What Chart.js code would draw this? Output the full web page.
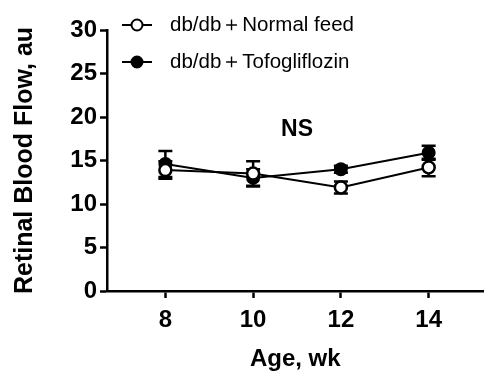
<!DOCTYPE html>
<html>
<head>
<meta charset="utf-8">
<script src="https://cdn.jsdelivr.net/npm/chart.js@4"></script>
<style>
  html, body { margin: 0; padding: 0; background: #fff; }
  #wrap { width: 492px; height: 378px; }
</style>
</head>
<body>
<div id="wrap"><canvas id="grafico"></canvas></div>
<script>
// data
const weeks = [8, 10, 12, 14];
const normalFeed = [13.9, 13.5, 11.9, 14.2];
const normalFeedErr = [1.0, 1.4, 0.7, 1.0];
const tofo = [14.6, 13.0, 14.0, 15.9];
const tofoErr = [1.5, 1.0, 0.4, 0.8];
const xTicks = [8, 10, 12, 14];
const legendLabels = ['db/db\uFF0BNormal feed', 'db/db\uFF0BTofogliflozin'];

const FONT = '"Liberation Sans", Arial, sans-serif';

// error bars + NS + legend
const extras = {
    id: 'extras',
    beforeDatasetsDraw(chart) {
        const ctx = chart.ctx;
        const xs = chart.scales.x, ys = chart.scales.y;
        const sets = [[normalFeed, normalFeedErr], [tofo, tofoErr]];
        ctx.save();
        ctx.strokeStyle = '#000';
        ctx.lineWidth = 2.5;
        sets.forEach(([vals, errs]) => {
            vals.forEach((v, i) => {
                const x = xs.getPixelForValue(weeks[i]);
                const y1 = ys.getPixelForValue(v - errs[i]);
                const y2 = ys.getPixelForValue(v + errs[i]);
                ctx.beginPath();
                ctx.moveTo(x, y1); ctx.lineTo(x, y2);
                ctx.moveTo(x - 7, y1); ctx.lineTo(x + 7, y1);
                ctx.moveTo(x - 7, y2); ctx.lineTo(x + 7, y2);
                ctx.stroke();
            });
        });
        ctx.restore();
    },
    afterDraw(chart) {
        const ctx = chart.ctx;
        const xs = chart.scales.x, ys = chart.scales.y;
        ctx.save();
        ctx.fillStyle = '#000';
        ctx.font = 'bold 23px ' + FONT;
        ctx.textAlign = 'center';
        ctx.textBaseline = 'middle';
        ctx.fillText('NS', xs.getPixelForValue(11.0), ys.getPixelForValue(18.5));

        // legend
        const rows = [25, 62];
        ctx.font = '20.5px ' + FONT;
        ctx.textAlign = 'left';
        rows.forEach((y, i) => {
            ctx.strokeStyle = '#000';
            ctx.lineWidth = 2;
            ctx.beginPath();
            ctx.moveTo(122, y); ctx.lineTo(152, y);
            ctx.stroke();
            ctx.beginPath();
            ctx.arc(137, y, 5.5, 0, Math.PI * 2);
            ctx.fillStyle = i === 0 ? '#fff' : '#000';
            ctx.fill();
            ctx.stroke();
            ctx.fillStyle = '#000';
            ctx.fillText(legendLabels[i], 170, y);
        });
        ctx.restore();
    }
};

const ctxGrafico = document.getElementById('grafico').getContext('2d');
const grafico = new Chart(ctxGrafico, {
    type: 'line',
    data: {
        datasets: [{
            label: legendLabels[0],
            data: weeks.map((w, i) => ({ x: w, y: normalFeed[i] })),
            borderColor: '#000',
            borderWidth: 2,
            pointRadius: 6,
            pointBorderWidth: 2.5,
            pointBackgroundColor: '#fff',
            pointBorderColor: '#000'
        }, {
            label: legendLabels[1],
            data: weeks.map((w, i) => ({ x: w, y: tofo[i] })),
            borderColor: '#000',
            borderWidth: 2,
            pointRadius: 6,
            pointBorderWidth: 2,
            pointBackgroundColor: '#000',
            pointBorderColor: '#000'
        }]
    },
    options: {
        responsive: true,
        maintainAspectRatio: false,
        animation: false,
        layout: { padding: { top: 30, right: 2, left: 0, bottom: 0 } },
        plugins: {
            legend: { display: false },
            tooltip: { enabled: false }
        },
        scales: {
            x: {
                type: 'linear',
                min: 6.67,
                max: 15.25,
                afterBuildTicks(scale) {
                    scale.ticks = xTicks.map(v => ({ value: v }));
                },
                afterFit(scale) { scale.height = 87; },
                grid: { drawOnChartArea: false, tickLength: 7, tickColor: '#000', tickWidth: 2.5 },
                border: { color: '#000', width: 2.5 },
                ticks: { color: '#000', padding: 8, font: { family: FONT, size: 24, weight: 'bold' } },
                title: {
                    display: true,
                    text: 'Age, wk',
                    color: '#000',
                    padding: { top: 18 },
                    font: { family: FONT, size: 24, weight: 'bold' }
                }
            },
            y: {
                min: 0,
                max: 30,
                afterFit(scale) { scale.width = 107; },
                grid: { drawOnChartArea: false, tickLength: 7, tickColor: '#000', tickWidth: 2.5 },
                border: { color: '#000', width: 2.5 },
                ticks: { stepSize: 5, color: '#000', padding: 3, font: { family: FONT, size: 24, weight: 'bold' } },
                title: {
                    display: true,
                    text: 'Retinal Blood Flow, au',
                    color: '#000',
                    padding: { top: 10, bottom: 0 },
                    font: { family: FONT, size: 25, weight: 'bold' }
                }
            }
        }
    },
    plugins: [extras]
});
</script>
</body>
</html>
